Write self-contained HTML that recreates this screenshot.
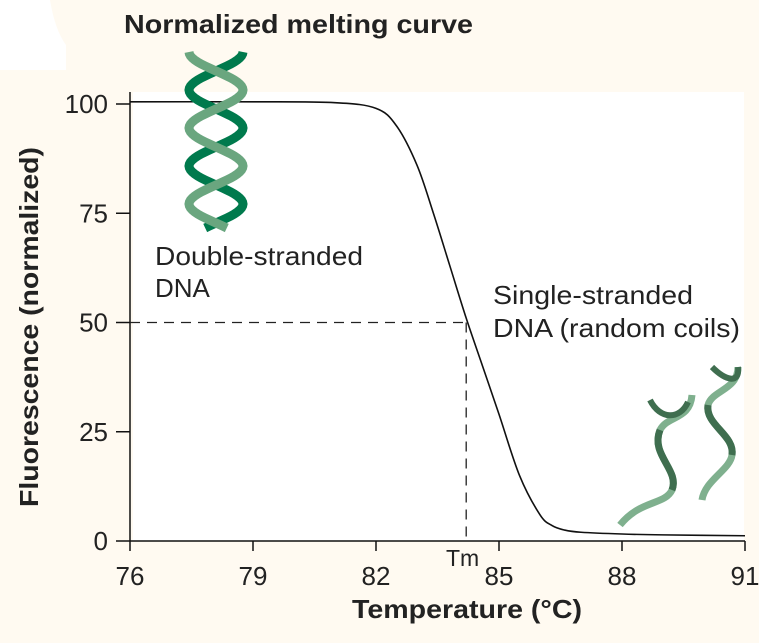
<!DOCTYPE html>
<html><head><meta charset="utf-8"><style>
body{margin:0;background:#fffaf1;font-family:"Liberation Sans",sans-serif}
svg{display:block}
</style></head><body>
<svg width="759" height="643" viewBox="0 0 759 643">
<path d="M0 0 H50 Q55 30 66 45 V70 H0 Z" fill="#ffffff"/>
<rect x="133" y="92" width="611" height="449" fill="#ffffff"/>
<text x="124" y="33" font-size="26" font-weight="bold" fill="#222" textLength="349" lengthAdjust="spacingAndGlyphs">Normalized melting curve</text>
<g id="axes"></g>
<path id="curve" fill="none" stroke="#111" stroke-width="1.6"/>
<g id="dsdna"></g>
<g>
<path d="M620 525 C640 500,665 505,672 490 C680 470,650 455,660 430 C668 415,690 420,692 395" fill="none" stroke="#7fb08e" stroke-width="7"/>
<path d="M660 430 C650 455,680 470,672 490" fill="none" stroke="#3f6e4f" stroke-width="7"/>
<path d="M650 400 C660 420,680 420,688 402" fill="none" stroke="#3f6e4f" stroke-width="6"/>
<path d="M702 500 C705 480,730 470,732 455 C735 435,705 425,708 405 C712 390,738 390,738 367" fill="none" stroke="#7fb08e" stroke-width="7"/>
<path d="M708 405 C705 425,735 435,732 455" fill="none" stroke="#3f6e4f" stroke-width="7"/>
<path d="M712 367 C725 380,740 385,738 367" fill="none" stroke="#3f6e4f" stroke-width="6"/>
</g>
<text font-size="26" fill="#222"><tspan x="155" y="265" textLength="208" lengthAdjust="spacingAndGlyphs">Double-stranded</tspan><tspan x="155" y="297">DNA</tspan></text>
<text font-size="26" fill="#222"><tspan x="493" y="304" textLength="200" lengthAdjust="spacingAndGlyphs">Single-stranded</tspan><tspan x="493" y="337" textLength="247" lengthAdjust="spacingAndGlyphs">DNA (random coils)</tspan></text>
<text x="446" y="566" font-size="23" fill="#222">Tm</text>
<text x="467" y="618" font-size="26" font-weight="bold" fill="#222" text-anchor="middle" textLength="230" lengthAdjust="spacingAndGlyphs">Temperature (°C)</text>
<text transform="translate(38,327) rotate(-90)" font-size="26" font-weight="bold" fill="#222" text-anchor="middle" textLength="360" lengthAdjust="spacingAndGlyphs">Fluorescence (normalized)</text>
</svg>
<script>
const temps=[76,79,81,82,82.5,83,83.4,83.8,84.2,84.6,85,85.5,86,86.3,86.6,87,88,89,91];
const fluor=[100.5,100.5,100.3,99,95,86,75,63,51,40,29,15,6,3.5,2.5,2,1.6,1.4,1.2];
const xTicks=[76,79,82,85,88,91];
const yTicks=[0,25,50,75,100];
const tmValue=84.2;
const xs=t=>130+(t-76)*41;
const ys=v=>541-v*4.37;
const NS="http://www.w3.org/2000/svg";
const ax=document.getElementById('axes');
function mk(tag,attrs,parent){const e=document.createElementNS(NS,tag);for(const k in attrs)e.setAttribute(k,attrs[k]);(parent||ax).appendChild(e);return e;}
const yl=mk('line',{x1:130,y1:92,x2:130,y2:541,stroke:'#111','stroke-width':1.5});


const xl=mk('line',{x1:130,y1:541,x2:745,y2:541,stroke:'#111','stroke-width':1.5});


xTicks.forEach(t=>{
 const l=mk('line',{x1:xs(t),y1:541,x2:xs(t),y2:551,stroke:'#111','stroke-width':1.5});
 
 
 const tx=mk('text',{x:xs(t),y:585,'font-size':26,fill:'#222','text-anchor':'middle'});
 tx.textContent=t;
 
 
});
yTicks.forEach(v=>{
 const l=mk('line',{x1:116,y1:ys(v),x2:130,y2:ys(v),stroke:'#111','stroke-width':1.5});
 
 
 const tx=mk('text',{x:108,y:ys(v)+9,'font-size':26,fill:'#222','text-anchor':'end'});
 tx.textContent=v;
 
 
});
const dh=mk('line',{x1:130,y1:ys(50),x2:xs(tmValue),y2:ys(50),stroke:'#222','stroke-width':1.3,'stroke-dasharray':'10 7'});


const dv=mk('line',{x1:xs(tmValue),y1:ys(50),x2:xs(tmValue),y2:541,stroke:'#222','stroke-width':1.3,'stroke-dasharray':'10 7'});


const P=temps.map((t,i)=>[xs(t),ys(fluor[i])]);
let d='M'+P[0][0]+' '+P[0][1];
for(let i=0;i<P.length-1;i++){
 const p0=P[Math.max(i-1,0)],p1=P[i],p2=P[i+1],p3=P[Math.min(i+2,P.length-1)];
 const c1=[p1[0]+(p2[0]-p0[0])/6,p1[1]+(p2[1]-p0[1])/6];
 const c2=[p2[0]-(p3[0]-p1[0])/6,p2[1]-(p3[1]-p1[1])/6];
 d+=` C${c1[0]} ${c1[1]},${c2[0]} ${c2[1]},${p2[0]} ${p2[1]}`;
}
document.getElementById('curve').setAttribute('d',d);
const g=document.getElementById('dsdna');
const hx=216,hamp=27,htop=52,hbot=228,hper=76;
function strand(phase){let s='';for(let y=htop;y<=hbot;y+=2){const x=hx+hamp*Math.sin((y-htop)/hper*2*Math.PI+phase);s+=(s?'L':'M')+x.toFixed(1)+' '+y;}return s;}
mk('path',{d:strand(Math.PI/2),fill:'none',stroke:'#007a4d','stroke-width':9},g);
mk('path',{d:strand(-Math.PI/2),fill:'none',stroke:'#6aa67f','stroke-width':9},g);
</script>
</body></html>
